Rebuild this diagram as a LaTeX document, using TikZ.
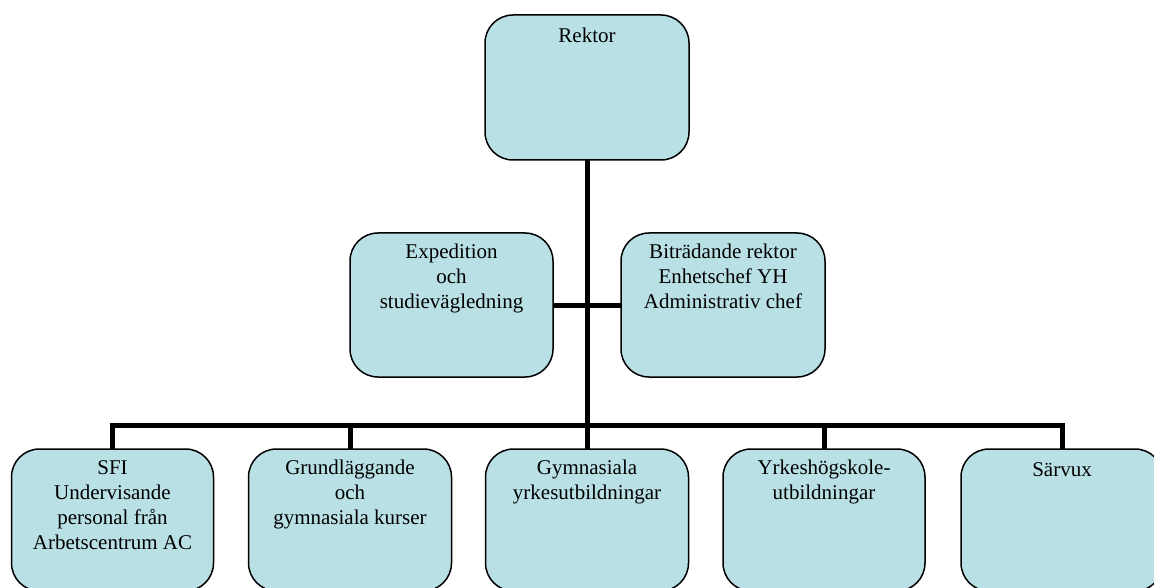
\documentclass[tikz,border=0pt]{standalone}
\usepackage{fontspec}
\setmainfont{Liberation Serif}
\definecolor{boxc}{RGB}{185,224,228}
\tikzset{
  orgbox/.style={draw=black, line width=1.5pt, fill=boxc, rounded corners=28pt,
    inner sep=0pt, outer sep=0pt, minimum width=204pt},
  lab/.style={anchor=north, yshift=-11pt, align=center, inner sep=0pt,
    font=\fontsize{21}{25}\selectfont, text=black,
    execute at begin node={\rule{0pt}{16pt}}},
  conn/.style={line width=5pt, draw=black}
}
\begin{document}
\begin{tikzpicture}[x=1pt, y=-1pt]
\useasboundingbox (0,0) rectangle (1154,588);
\clip (0,0) rectangle (1154,588);
% boxes
\node[orgbox, minimum height=145pt, label={[lab]north:Rektor}] (rektor) at (587,87.5) {};
\node[orgbox, minimum width=203pt, minimum height=144pt,
  label={[lab]north:Expedition\\och\\studievägledning}] (exp) at (451.5,305) {};
\node[orgbox, minimum height=144pt,
  label={[lab]north:Biträdande rektor\\Enhetschef YH\\Administrativ chef}] (bit) at (723,305) {};
\node[orgbox, minimum width=202pt, minimum height=142pt,
  label={[lab]north:SFI\\Undervisande\\personal från\\Arbetscentrum AC}] (b1) at (112.5,520) {};
\node[orgbox, minimum width=203pt, minimum height=142pt,
  label={[lab]north:Grundläggande\\och\\gymnasiala kurser}] (b2) at (350,520) {};
\node[orgbox, minimum width=203pt, minimum height=142pt,
  label={[lab]north:Gymnasiala\\yrkesutbildningar}] (b3) at (587,520) {};
\node[orgbox, minimum width=202pt, minimum height=142pt,
  label={[lab]north:Yrkeshögskole-\\utbildningar}] (b4) at (824,520) {};
\node[orgbox, minimum width=202pt, minimum height=142pt,
  label={[lab]north:Särvux}] (b5) at (1062,520) {};
% connectors
\coordinate (bus) at (587,425);
\draw[conn] (rektor.south) -- (bus);
\draw[conn] (exp.east) -- (bit.west);
\draw[conn] (b1.north) -- (b1.north |- bus) -- (b5.north |- bus) -- (b5.north);
\draw[conn] (b2.north) -- (b2.north |- bus);
\draw[conn] (b3.north) -- (b3.north |- bus);
\draw[conn] (b4.north) -- (b4.north |- bus);
\end{tikzpicture}
\end{document}
